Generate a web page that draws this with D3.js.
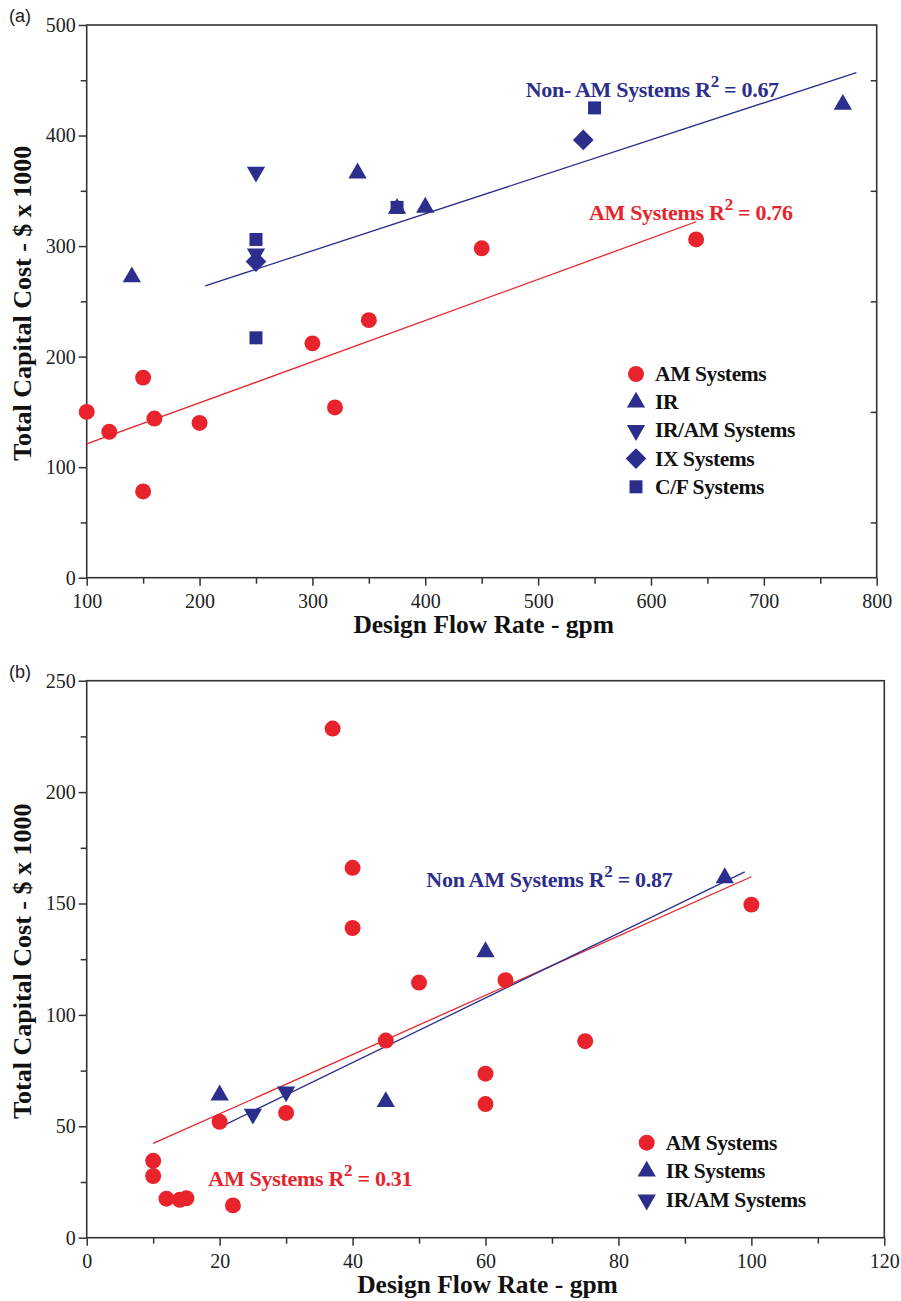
<!DOCTYPE html>
<html>
<head>
<meta charset="utf-8">
<script src="https://cdn.jsdelivr.net/npm/d3@7"></script>
<style>
  body { margin: 0; background: #fff; }
  svg { display: block; }
</style>
</head>
<body>
<div id="vis"></div>
<script>
// ---- panel (a) data: design flow (gpm) vs total capital cost ($ x 1000)
var aAM = [[100, 150], [120, 132], [150, 181], [150, 78], [160, 144], [200, 140],
           [300, 212], [320, 154], [350, 233], [450, 298], [640, 306]];
var aIR = [[140, 272], [340, 366], [375, 334], [400, 335], [770, 428]];
var aIRAM = [[250, 367], [250, 293]];
var aIX = [[250, 286], [540, 396]];
var aCF = [[250, 306], [250, 217], [375, 335], [550, 425]];
var aTrendAM = [[100, 121], [640, 322]];
var aTrendNon = [[205, 264], [782, 457]];
var aXTicks = [100, 200, 300, 400, 500, 600, 700, 800];
var aYTicks = [0, 100, 200, 300, 400, 500];

// ---- panel (b) data
var bAM = [[37, 228.5], [40, 166], [40, 139], [50, 114.5], [45, 88.5], [30, 56],
           [20, 52], [10, 34.5], [10, 27.7], [12, 17.5], [14, 17], [15, 17.7],
           [22, 14.5], [63, 115.6], [75, 88.2], [60, 73.6], [60, 60], [100, 149.5]];
var bIR = [[20, 64], [45, 61], [60, 128.3], [96, 161.5]];
var bIRAM = [[25, 55.5], [30, 65.5]];
var bTrendAM = [[10, 42.3], [100, 162]];
var bTrendNon = [[21, 51], [99, 164.2]];
var bXTicks = [0, 20, 40, 60, 80, 100, 120];
var bYTicks = [0, 50, 100, 150, 200, 250];

var RED = "#e8232b", BLUE = "#2b2e8c", AXIS = "#333";

var svg = d3.select("#vis").append("svg")
    .attr("width", 901)
    .attr("height", 1301);

var symbols = {
  circle:   { type: d3.symbolCircle,   size: 200, rot: 0,   color: RED },
  up:       { type: d3.symbolTriangle, size: 145, rot: 0,   color: BLUE },
  down:     { type: d3.symbolTriangle, size: 145, rot: 180, color: BLUE },
  diamond:  { type: d3.symbolSquare,   size: 214, rot: 45,  color: BLUE },
  square:   { type: d3.symbolSquare,   size: 169, rot: 0,   color: BLUE }
};

function marker(g, kind, x, y) {
  var s = symbols[kind];
  g.append("path")
      .attr("d", d3.symbol().type(s.type).size(s.size)())
      .attr("transform", "translate(" + x + "," + y + ") rotate(" + s.rot + ")")
      .attr("fill", s.color);
}

function drawPanel(p) {
  var x = d3.scaleLinear().domain(p.xDomain).range([p.left, p.right]);
  var y = d3.scaleLinear().domain(p.yDomain).range([p.bottom, p.top]);
  var g = svg.append("g");

  // frame
  g.append("rect")
      .attr("x", p.left).attr("y", p.top)
      .attr("width", p.right - p.left).attr("height", p.bottom - p.top)
      .attr("fill", "none").attr("stroke", AXIS).attr("stroke-width", 1.6);

  // bottom axis, major + minor ticks
  g.append("g")
      .attr("transform", "translate(0," + p.bottom + ")")
      .call(d3.axisBottom(x).tickValues(p.xTicks).tickSize(8).tickPadding(8).tickFormat(d3.format("d")));
  g.append("g")
      .attr("transform", "translate(0," + p.bottom + ")")
      .call(d3.axisBottom(x).tickValues(p.xMinor).tickSize(6).tickFormat(""));

  // left axis
  g.append("g")
      .attr("transform", "translate(" + p.left + ",0)")
      .call(d3.axisLeft(y).tickValues(p.yTicks).tickSize(8).tickPadding(3).tickFormat(d3.format("d")));
  g.append("g")
      .attr("transform", "translate(" + p.left + ",0)")
      .call(d3.axisLeft(y).tickValues(p.yMinor).tickSize(6).tickFormat(""));

  // small inward ticks on the right side (panel a only)
  if (p.rightMinor) {
    g.append("g")
        .attr("transform", "translate(" + p.right + ",0)")
        .call(d3.axisLeft(y).tickValues(p.yMinor).tickSize(0).tickFormat(""))
        .selectAll(".tick line").attr("x2", -6);
  }

  g.selectAll(".domain").remove();
  g.selectAll(".tick line").attr("stroke", AXIS).attr("stroke-width", 1.5);
  g.selectAll(".tick text")
      .style("font-family", "'Liberation Serif', 'DejaVu Serif', serif")
      .style("font-size", "20px")
      .attr("fill", "#222");

  // axis titles
  g.append("text")
      .attr("x", (p.left + p.right) / 2 + 2)
      .attr("y", p.bottom + 55)
      .attr("text-anchor", "middle")
      .style("font-family", "'Liberation Serif', serif")
      .style("font-weight", "bold")
      .style("font-size", "25.5px")
      .attr("fill", "#111")
      .text("Design Flow Rate - gpm");

  g.append("text")
      .attr("transform", "translate(31," + ((p.top + p.bottom) / 2 + 2) + ") rotate(-90)")
      .attr("text-anchor", "middle")
      .style("font-family", "'Liberation Serif', serif")
      .style("font-weight", "bold")
      .style("font-size", "26px")
      .attr("fill", "#111")
      .text("Total Capital Cost - $ x 1000");

  // panel letter
  g.append("text")
      .attr("x", 9).attr("y", p.top - 3)
      .style("font-family", "'Liberation Sans', Arial, sans-serif")
      .style("font-size", "18px")
      .attr("fill", "#222")
      .text(p.letter);

  // trend lines
  var line = d3.line().x(function (d) { return x(d[0]); }).y(function (d) { return y(d[1]); });
  p.trends.forEach(function (t) {
    g.append("path").attr("d", line(t.data))
        .attr("fill", "none").attr("stroke", t.color).attr("stroke-width", 1.3);
  });

  // points
  p.series.forEach(function (s) {
    s.data.forEach(function (d) { marker(g, s.kind, x(d[0]), y(d[1])); });
  });

  // R^2 annotations
  p.notes.forEach(function (n) {
    var t = g.append("text")
        .attr("x", x(n.at[0])).attr("y", y(n.at[1]))
        .style("font-family", "'Liberation Serif', serif")
        .style("font-weight", "bold")
        .style("font-size", "22px")
        .style("letter-spacing", "-0.3px")
        .attr("fill", n.color);
    t.append("tspan").text(n.label + " R");
    t.append("tspan").attr("dy", -10).style("font-size", "17px").text("2");
    t.append("tspan").attr("dy", 10).text(" = " + n.r2);
  });

  // legend
  p.series.forEach(function (s, i) {
    var ly = p.legendY + i * p.legendStep;
    marker(g, s.kind, p.legendX, ly);
    g.append("text")
        .attr("x", p.legendX + 19).attr("y", ly + 7)
        .style("font-family", "'Liberation Serif', serif")
        .style("font-weight", "bold")
        .style("font-size", "21.5px")
        .style("letter-spacing", "-0.4px")
        .attr("fill", "#111")
        .text(s.name);
  });
}

drawPanel({
  letter: "(a)",
  left: 86.7, right: 876.7, top: 25, bottom: 577.7,
  xDomain: [100, 800], yDomain: [0, 500],
  xTicks: aXTicks, yTicks: aYTicks,
  xMinor: [150, 250, 350, 450, 550, 650, 750],
  yMinor: [50, 150, 250, 350, 450],
  rightMinor: true,
  trends: [{ data: aTrendAM, color: RED }, { data: aTrendNon, color: BLUE }],
  series: [
    { name: "AM Systems", kind: "circle", data: aAM },
    { name: "IR", kind: "up", data: aIR },
    { name: "IR/AM Systems", kind: "down", data: aIRAM },
    { name: "IX Systems", kind: "diamond", data: aIX },
    { name: "C/F Systems", kind: "square", data: aCF }
  ],
  notes: [
    { label: "Non- AM Systems", r2: "0.67", at: [489, 435], color: BLUE },
    { label: "AM Systems", r2: "0.76", at: [545, 323.6], color: RED }
  ],
  legendX: 636, legendY: 374, legendStep: 28.2
});

drawPanel({
  letter: "(b)",
  left: 86.7, right: 884.3, top: 680.7, bottom: 1237.7,
  xDomain: [0, 120], yDomain: [0, 250],
  xTicks: bXTicks, yTicks: bYTicks,
  xMinor: [10, 30, 50, 70, 90, 110],
  yMinor: [25, 75, 125, 175, 225],
  rightMinor: false,
  trends: [{ data: bTrendAM, color: RED }, { data: bTrendNon, color: BLUE }],
  series: [
    { name: "AM Systems", kind: "circle", data: bAM },
    { name: "IR Systems", kind: "up", data: bIR },
    { name: "IR/AM Systems", kind: "down", data: bIRAM }
  ],
  notes: [
    { label: "Non AM Systems", r2: "0.87", at: [51.1, 157.5], color: BLUE },
    { label: "AM Systems", r2: "0.31", at: [18.3, 23.2], color: RED }
  ],
  legendX: 646.7, legendY: 1142.7, legendStep: 28.6
});
</script>
</body>
</html>
